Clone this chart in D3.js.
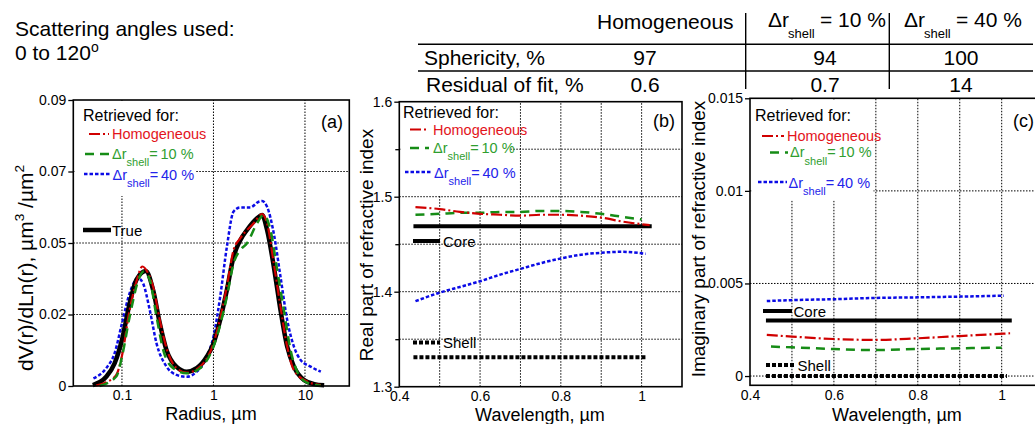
<!DOCTYPE html>
<html><head><meta charset="utf-8">
<script src="https://cdn.jsdelivr.net/npm/d3@7"></script>
<style>
body{margin:0;background:#fff}
svg{display:block;font-family:"Liberation Sans",Arial,sans-serif}
</style>
</head><body>
<svg id="chart" width="1035" height="424"></svg>
<script>
// ---------------- DATA ----------------
// Panel (a): size distributions (radius in µm, dV/dlnr)
const aTrueR   = [0.048,0.0673,0.0831,0.1,0.1214,0.1437,0.182,0.219,0.2594,0.307,0.3955,0.509,0.656,0.845,1,1.184,1.401,1.659,1.963,2.324,2.993,3.397,3.854,4.562,5.40,6.39,7.57,9.75,12.6,16.2];
const aTrueV   = [0.0003,0.0029,0.0071,0.0145,0.026,0.0334,0.0362,0.0302,0.0197,0.0113,0.006,0.0045,0.0056,0.0092,0.0134,0.0208,0.0302,0.0407,0.0459,0.0491,0.0528,0.0538,0.0491,0.0376,0.0239,0.0124,0.0061,0.0019,0.0006,0.0002];
const aHomR    = [0.0522,0.0673,0.0867,0.1,0.1214,0.1437,0.167,0.193,0.219,0.259,0.307,0.3955,0.509,0.714,1,1.401,1.659,1.963,2.753,3.397,3.854,4.562,5.40,6.39,7.57,10.6,14.9];
const aHomV    = [0.0001,0.0012,0.0035,0.0095,0.0239,0.0328,0.0376,0.0355,0.0313,0.0208,0.0119,0.0056,0.0042,0.0061,0.0134,0.0313,0.0428,0.0465,0.0512,0.0541,0.0512,0.0386,0.025,0.0124,0.005,0.0014,0.0003];
const a10R     = [0.0569,0.0867,0.1,0.1214,0.156,0.173,0.2013,0.2387,0.2827,0.3636,0.509,0.714,1,1.401,1.659,1.963,2.324,2.993,3.546,4.196,4.97,5.88,6.96,8.24,10.6,14.9];
const a10V     = [0.0,0.003,0.0092,0.0218,0.0344,0.036,0.0334,0.0218,0.0113,0.0056,0.004,0.0056,0.0124,0.0281,0.0386,0.0428,0.0449,0.0512,0.0538,0.0491,0.0365,0.0239,0.0113,0.0045,0.001,0.0001];
const a40R     = [0.0488,0.0673,0.0831,0.1,0.1214,0.15,0.17,0.2013,0.2387,0.307,0.3955,0.509,0.656,0.845,1,1.184,1.401,1.659,1.963,2.53,3.12,3.397,3.854,4.562,5.40,6.39,7.57,8.96,11.5,14.9];
const a40V     = [0.0024,0.0056,0.0103,0.0197,0.0292,0.0339,0.0323,0.0239,0.0134,0.0061,0.0035,0.0029,0.0045,0.0092,0.0155,0.0281,0.0438,0.0549,0.0562,0.0562,0.058,0.0582,0.0564,0.048,0.0344,0.0208,0.0124,0.0082,0.0061,0.0045];
const aYTicks  = [0,0.0225,0.045,0.0675,0.09];
const aYLabels = ["0","0.02","0.05","0.07","0.09"];
const aXTicks  = [0.1,1,10];
const aXLabels = ["0.1","1","10"];

// Panel (b): real part of refractive index vs wavelength (µm)
const bHomWl = [0.44,0.5,0.55,0.6,0.65,0.7,0.75,0.8,0.85,0.9,0.95,1.02];
const bHomV  = [1.489,1.487,1.484,1.482,1.481,1.480,1.481,1.481,1.480,1.478,1.474,1.470];
const b10Wl  = [0.44,0.5,0.55,0.6,0.65,0.7,0.75,0.8,0.85,0.9,0.95,1.0];
const b10V   = [1.481,1.482,1.483,1.483,1.484,1.484,1.485,1.485,1.484,1.482,1.479,1.476];
const b40Wl  = [0.44,0.5,0.55,0.6,0.65,0.7,0.75,0.8,0.85,0.9,0.95,1.01];
const b40V   = [1.390,1.399,1.405,1.411,1.418,1.424,1.430,1.435,1.439,1.441,1.442,1.440];
const bCoreWl = [0.435,1.025], bCoreV = [1.469,1.469];
const bShellWl = [0.435,1.012], bShellV = [1.331,1.331];
const bYTicks = [1.3,1.4,1.5,1.6], bYLabels = ["1.3","1.4","1.5","1.6"];
const bXTicks = [0.4,0.6,0.8,1.0], bXLabels = ["0.4","0.6","0.8","1"];

// Panel (c): imaginary part of refractive index vs wavelength (µm)
const cHomWl = [0.44,0.5,0.6,0.7,0.8,0.9,1.02];
const cHomV  = [0.00222,0.00213,0.0020,0.00195,0.00204,0.00216,0.00231];
const c10Wl  = [0.45,0.5,0.6,0.7,0.8,0.9,1.0];
const c10V   = [0.00159,0.00155,0.00146,0.0014,0.00146,0.0015,0.00153];
const c40Wl  = [0.44,0.5,0.6,0.7,0.8,0.9,1.005];
const c40V   = [0.00405,0.0041,0.00415,0.00422,0.00425,0.00429,0.00434];
const cCoreWl = [0.438,1.024], cCoreV = [0.003,0.003];
const cShellWl = [0.438,1.0125], cShellV = [0,0];
const cYTicks = [0,0.005,0.01,0.015], cYLabels = ["0","0.005","0.01","0.015"];
const cXTicks = [0.4,0.6,0.8,1.0], cXLabels = ["0.4","0.6","0.8","1"];

// Table
const tableCols = ["Homogeneous","10 %","40 %"];
const sphericity = ["97","94","100"];
const residual = ["0.6","0.7","14"];

// ---------------- DRAWING ----------------
const svg = d3.select("#chart");
const zip = (a,b)=>a.map((v,i)=>[v,b[i]]);
const RED="#d00000", REDT="#e3141c", GRN="#168c16", GRNT="#2f9e2f", BLU="#0b0be6", BLUT="#2323ea";
const styles = {
  hom:  {stroke:RED, w:2.2, dash:"11,3,2,3"},
  s10:  {stroke:GRN, w:2.5, dash:"9,6"},
  s40:  {stroke:BLU, w:2.5, dash:"3.5,2"},
  tru:  {stroke:"#000", w:4.5, dash:null},
  core: {stroke:"#000", w:4, dash:null},
  shell:{stroke:"#000", w:4, dash:"4,2"}
};

function drawLine(g, data, x, y, st){
  const line = d3.line().x(d=>x(d[0])).y(d=>y(d[1])).curve(d3.curveMonotoneX);
  g.append("path").datum(data).attr("d",line).attr("fill","none")
    .attr("stroke",st.stroke).attr("stroke-width",st.w)
    .attr("stroke-dasharray",st.dash).attr("stroke-linejoin","round");
}
function gridV(g, vals, x, y){
  const [y0,y1]=y.range();
  g.selectAll(null).data(vals).enter().append("line")
   .attr("x1",d=>x(d)).attr("x2",d=>x(d)).attr("y1",y0).attr("y2",y1)
   .attr("stroke","#000").attr("stroke-width",1).attr("stroke-dasharray","1.5,1.5");
}
function gridH(g, vals, x, y){
  const [x0,x1]=x.range();
  g.selectAll(null).data(vals).enter().append("line")
   .attr("y1",d=>y(d)).attr("y2",d=>y(d)).attr("x1",x0).attr("x2",x1)
   .attr("stroke","#000").attr("stroke-width",1).attr("stroke-dasharray","1.5,1.5");
}
function frame(g,x,y){
  const [x0,x1]=x.range(), [y0,y1]=y.range();
  g.append("rect").attr("x",x0).attr("y",y1).attr("width",x1-x0).attr("height",y0-y1)
   .attr("fill","none").attr("stroke","#000").attr("stroke-width",1.6);
}
function yAxis(g,y,x0,ticks,labels,minor){
  const ax = d3.axisLeft(y).tickValues(ticks).tickFormat((d,i)=>labels[i]).tickSize(5).tickPadding(2);
  const a = g.append("g").attr("transform",`translate(${x0},0)`).call(ax);
  a.select(".domain").remove();
  a.selectAll("text").attr("font-size",14).attr("font-family","Liberation Sans, Arial, sans-serif").attr("fill","#000");
  a.selectAll("line").attr("stroke","#000").attr("stroke-width",1.3);
  if(minor){
    const m = d3.axisLeft(y).tickValues(minor).tickFormat("").tickSize(4);
    const mm = g.append("g").attr("transform",`translate(${x0},0)`).call(m);
    mm.select(".domain").remove();
    mm.selectAll("line").attr("stroke","#000").attr("stroke-width",1.3);
  }
}
function xAxis(g,x,y0,ticks,labels){
  const ax = d3.axisBottom(x).tickValues(ticks).tickFormat((d,i)=>labels[i]).tickSize(0).tickPadding(4);
  const a = g.append("g").attr("transform",`translate(0,${y0})`).call(ax);
  a.select(".domain").remove();
  a.selectAll("text").attr("font-size",14).attr("font-family","Liberation Sans, Arial, sans-serif").attr("fill","#000");
}
function legendItem(g, x1, x2, yl, st, tx, ty, color, main, sub, rest){
  g.append("line").attr("x1",x1).attr("x2",x2).attr("y1",yl).attr("y2",yl)
   .attr("stroke",st.stroke).attr("stroke-width",st.w).attr("stroke-dasharray",st.dash);
  const t = g.append("text").attr("x",tx).attr("y",ty).attr("fill",color).attr("font-size",14.5);
  t.append("tspan").text(main);
  if(sub){
    t.append("tspan").attr("font-size",11).attr("dy",7.5).text(sub);
    t.append("tspan").attr("dy",-7.5).text(rest);
  }
}
function retrievedLegend(g, x0, tx, items){
  g.append("text").attr("x",x0).attr("y",items.titleY).attr("font-size",16).text("Retrieved for:");
  const L = items.rows;
  legendItem(g, L[0].x1, L[0].x2, L[0].y, styles.hom, L[0].tx, L[0].y+5, REDT, "Homogeneous");
  legendItem(g, L[1].x1, L[1].x2, L[1].y, styles.s10, L[1].tx, L[1].y+4.5, GRNT, "\u0394r", "shell", "=\u200910 %");
  legendItem(g, L[2].x1, L[2].x2, L[2].y, styles.s40, L[2].tx, L[2].y+5.5, BLUT, "\u0394r", "shell", "=\u200940 %");
}
function yTitle(g, x, y, parts, size){
  const t = g.append("text").attr("transform",`translate(${x},${y}) rotate(-90)`)
    .attr("text-anchor","middle").attr("font-size",size);
  parts.forEach(p=>{
    const s = t.append("tspan").text(p.t);
    if(p.sup){ s.attr("font-size",size*0.65).attr("dy",-size*0.45); }
    if(p.back){ s.attr("dy",size*0.45); }
  });
}

// ---- Panel (a)
{
  const g = svg.append("g");
  const x = d3.scaleLog().domain([0.0294,30.5]).range([73.3,349.3]);
  const y = d3.scaleLinear().domain([0,0.09]).range([386,100]);
  gridV(g,aXTicks,x,y);
  gridH(g,aYTicks.slice(1,4),x,y);
  g.append("rect").attr("x",74.5).attr("y",101).attr("width",121).attr("height",95).attr("fill","#fff");
  drawLine(g, zip(a40R,a40V), x, y, styles.s40);
  drawLine(g, zip(aTrueR,aTrueV), x, y, styles.tru);
  drawLine(g, zip(aHomR,aHomV), x, y, styles.hom);
  drawLine(g, zip(a10R,a10V), x, y, styles.s10);
  frame(g,x,y);
  yAxis(g,y,73.3,aYTicks,aYLabels);
  xAxis(g,x,386,aXTicks,aXLabels);
  retrievedLegend(g, 83, 112, {titleY:121, rows:[
    {x1:89,x2:109,y:134,tx:112},{x1:85,x2:109,y:154,tx:112},{x1:84,x2:110,y:174,tx:112.5}]});
  g.append("line").attr("x1",83).attr("x2",111).attr("y1",230).attr("y2",230).attr("stroke","#000").attr("stroke-width",4.5);
  g.append("text").attr("x",112).attr("y",235.5).attr("font-size",15).text("True");
  g.append("text").attr("x",343).attr("y",128).attr("text-anchor","end").attr("font-size",18).text("(a)");
  g.append("text").attr("x",211).attr("y",420).attr("text-anchor","middle").attr("font-size",18).text("Radius, \u00b5m");
  yTitle(g, 33, 268, [{t:"dV(r)/dLn(r), \u00b5m"},{t:"3",sup:true},{t:" /\u00b5m",back:true},{t:"2",sup:true}], 21);
}

// ---- Panel (b)
{
  const g = svg.append("g");
  const x = d3.scaleLinear().domain([0.4,1.1]).range([399.3,682]);
  const y = d3.scaleLinear().domain([1.3,1.6]).range([386.7,101.7]);
  gridV(g,[0.5,0.6,0.7,0.8,0.9,1.0],x,y);
  gridH(g,[1.35,1.4,1.45,1.5,1.55],x,y);
  g.append("rect").attr("x",400.5).attr("y",103).attr("width",110).attr("height",92).attr("fill","#fff");
  drawLine(g, zip(bShellWl,bShellV), x, y, styles.shell);
  drawLine(g, zip(bCoreWl,bCoreV), x, y, styles.core);
  drawLine(g, zip(b40Wl,b40V), x, y, styles.s40);
  drawLine(g, zip(b10Wl,b10V), x, y, styles.s10);
  drawLine(g, zip(bHomWl,bHomV), x, y, styles.hom);
  frame(g,x,y);
  yAxis(g,y,399.3,bYTicks,bYLabels,[1.35,1.45,1.55]);
  xAxis(g,x,387,bXTicks,bXLabels);
  retrievedLegend(g, 403, 433, {titleY:118, rows:[
    {x1:410,x2:429,y:129.5,tx:433},{x1:410,x2:429,y:148,tx:433},{x1:405,x2:431,y:172,tx:434}]});
  g.append("line").attr("x1",413).attr("x2",440).attr("y1",241).attr("y2",241).attr("stroke","#000").attr("stroke-width",4);
  g.append("text").attr("x",443).attr("y",247).attr("font-size",15).text("Core");
  g.append("line").attr("x1",413).attr("x2",440).attr("y1",342.5).attr("y2",342.5).attr("stroke","#000").attr("stroke-width",4).attr("stroke-dasharray","4,2");
  g.append("text").attr("x",443).attr("y",348).attr("font-size",15).text("Shell");
  g.append("text").attr("x",675).attr("y",127).attr("text-anchor","end").attr("font-size",18).text("(b)");
  g.append("text").attr("x",540).attr("y",421).attr("text-anchor","middle").attr("font-size",18).text("Wavelength, \u00b5m");
  yTitle(g, 373, 245, [{t:"Real part of refractive index"}], 19);
}

// ---- Panel (c)
{
  const g = svg.append("g");
  const x = d3.scaleLinear().domain([0.4,1.1]).range([750,1043.65]);
  const y = d3.scaleLinear().domain([-0.0005,0.015]).range([385.3,98.3]);
  gridV(g,[0.5,0.6,0.7,0.8,0.9,1.0],x,y);
  gridH(g,[0,0.005,0.01],x,y);
  g.append("rect").attr("x",751.5).attr("y",99.5).attr("width",122).attr("height",101).attr("fill","#fff");
  drawLine(g, zip(cShellWl,cShellV), x, y, styles.shell);
  drawLine(g, zip(cCoreWl,cCoreV), x, y, styles.core);
  drawLine(g, zip(c40Wl,c40V), x, y, styles.s40);
  drawLine(g, zip(c10Wl,c10V), x, y, styles.s10);
  drawLine(g, zip(cHomWl,cHomV), x, y, styles.hom);
  frame(g,x,y);
  yAxis(g,y,750,cYTicks,cYLabels);
  xAxis(g,x,386,cXTicks,cXLabels);
  retrievedLegend(g, 755, 787, {titleY:121, rows:[
    {x1:762,x2:784,y:136,tx:787},{x1:770,x2:788,y:152.5,tx:790},{x1:758,x2:787,y:182,tx:788.5}]});
  g.append("line").attr("x1",763).attr("x2",792).attr("y1",311).attr("y2",311).attr("stroke","#000").attr("stroke-width",4);
  g.append("text").attr("x",793.5).attr("y",317).attr("font-size",15).text("Core");
  g.append("line").attr("x1",766).attr("x2",796).attr("y1",365).attr("y2",365).attr("stroke","#000").attr("stroke-width",4).attr("stroke-dasharray","4,2");
  g.append("text").attr("x",797.5).attr("y",371).attr("font-size",15).text("Shell");
  g.append("text").attr("x",1013).attr("y",127).attr("font-size",18).text("(c)");
  g.append("text").attr("x",897).attr("y",421).attr("text-anchor","middle").attr("font-size",18).text("Wavelength, \u00b5m");
  yTitle(g, 705, 239, [{t:"Imaginary part of refractive index"}], 19);
}

// ---- Top texts & table
{
  const g = svg.append("g").attr("font-size",21);
  g.append("text").attr("x",15).attr("y",36).text("Scattering angles used:");
  const t2 = g.append("text").attr("x",15).attr("y",60);
  t2.append("tspan").text("0 to 120");
  t2.append("tspan").attr("font-size",14).attr("dy",-8).text("o");

  g.append("line").attr("x1",418).attr("x2",1033).attr("y1",44.3).attr("y2",44.3).attr("stroke","#000").attr("stroke-width",1.6);
  g.append("line").attr("x1",418).attr("x2",1033).attr("y1",71).attr("y2",71).attr("stroke","#000").attr("stroke-width",1.6);
  [745.7,889.3].forEach(xv=>g.append("line").attr("x1",xv).attr("x2",xv).attr("y1",13).attr("y2",89).attr("stroke","#000").attr("stroke-width",1.4));

  g.append("text").attr("x",597).attr("y",29).text(tableCols[0]);
  [[768,tableCols[1]],[904,tableCols[2]]].forEach(([xv,lab])=>{
    g.append("text").attr("x",xv).attr("y",27).text("\u0394r");
    g.append("text").attr("x",xv+20).attr("y",38).attr("font-size",13).text("shell");
    g.append("text").attr("x",xv+52).attr("y",27).text("= "+lab);
  });
  g.append("text").attr("x",424).attr("y",65).text("Sphericity, %");
  g.append("text").attr("x",426).attr("y",92).text("Residual of fit, %");
  const colX = [645,825,961];
  sphericity.forEach((v,i)=>g.append("text").attr("x",colX[i]).attr("y",65).attr("text-anchor","middle").text(v));
  residual.forEach((v,i)=>g.append("text").attr("x",colX[i]).attr("y",92).attr("text-anchor","middle").text(v));
}
</script>
</body></html>
